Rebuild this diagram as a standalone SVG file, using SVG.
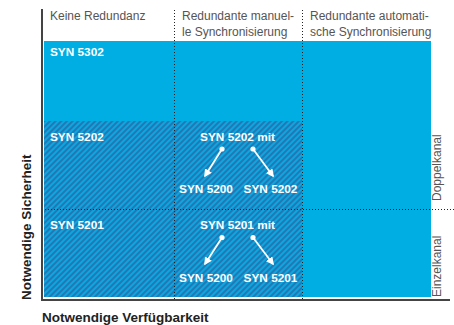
<svg xmlns="http://www.w3.org/2000/svg" width="454" height="325" viewBox="0 0 454 325">
<style>
.hdr{font-family:"Liberation Sans",Arial,sans-serif;font-size:12px;fill:#555}
.lbl{font-family:"Liberation Sans",Arial,sans-serif;font-size:11.8px;font-weight:bold;fill:#fff}
.ax{font-family:"Liberation Sans",Arial,sans-serif;font-size:13.5px;font-weight:bold;fill:#222}
.dot{stroke:#222;stroke-width:1;stroke-dasharray:1 2;fill:none}
.arr{stroke:#fff;stroke-width:1.8;fill:none;marker-end:url(#ah)}
</style>
<defs>
<pattern id="hatch" patternUnits="userSpaceOnUse" width="4" height="4" patternTransform="rotate(45)">
<rect width="4" height="4" fill="#0ea6df"/>
<rect width="2" height="4" fill="#2178b4"/>
</pattern>
<marker id="ah" viewBox="0 0 10 10" refX="8" refY="5" markerWidth="4.5" markerHeight="4.5" orient="auto" markerUnits="strokeWidth">
<path d="M0,0 L10,5 L0,10 z" fill="#fff"/>
</marker>
</defs>
<g id="background">
<rect x="44" y="41" width="387" height="256" fill="#00aee3"/>
<rect x="44" y="121" width="258" height="176" fill="url(#hatch)"/>
</g>
<g id="grid">
<line class="dot" x1="174.5" y1="10" x2="174.5" y2="300"/>
<line class="dot" x1="302.5" y1="10" x2="302.5" y2="300"/>
<line class="dot" x1="42" y1="209.5" x2="454" y2="209.5"/>
</g>
<g id="axes">
<line x1="42" y1="9" x2="42" y2="301" stroke="#444" stroke-width="2"/>
<line x1="41" y1="300" x2="450" y2="300" stroke="#444" stroke-width="2"/>
<text class="ax" x="42" y="321.5">Notwendige Verfügbarkeit</text>
<text class="ax" transform="translate(31,300) rotate(-90)">Notwendige Sicherheit</text>
</g>
<g id="headers">
<text class="hdr" x="50" y="20">Keine Redundanz</text>
<text class="hdr" x="182" y="20">Redundante manuel-</text>
<text class="hdr" x="182" y="35.5">le Synchronisierung</text>
<text class="hdr" x="310" y="20">Redundante automati-</text>
<text class="hdr" x="310" y="35.5">sche Synchronisierung</text>
<text class="hdr" transform="translate(441,201) rotate(-90)">Doppelkanal</text>
<text class="hdr" transform="translate(441,297) rotate(-90)">Einzelkanal</text>
</g>
<g id="n5302"><text class="lbl" x="50" y="56">SYN 5302</text></g>
<g id="n5202"><text class="lbl" x="50" y="140.5">SYN 5202</text></g>
<g id="n5201"><text class="lbl" x="50" y="229">SYN 5201</text></g>
<g id="n5202mit"><text class="lbl" x="237.5" y="140.5" text-anchor="middle">SYN 5202 mit</text></g>
<g id="n5200a"><text class="lbl" x="206" y="193" text-anchor="middle">SYN 5200</text></g>
<g id="n5202b"><text class="lbl" x="270.5" y="193" text-anchor="middle">SYN 5202</text></g>
<g id="n5201mit"><text class="lbl" x="237.5" y="229" text-anchor="middle">SYN 5201 mit</text></g>
<g id="n5200b"><text class="lbl" x="206" y="281.5" text-anchor="middle">SYN 5200</text></g>
<g id="n5201b"><text class="lbl" x="270.5" y="281.5" text-anchor="middle">SYN 5201</text></g>
<g id="connectors" fill="#fff">
<circle cx="222" cy="149" r="2.6"/>
<circle cx="253" cy="149" r="2.6"/>
<circle cx="222" cy="237.5" r="2.6"/>
<circle cx="253" cy="237.5" r="2.6"/>
<line class="arr" x1="222" y1="149" x2="205" y2="176"/>
<line class="arr" x1="253" y1="149" x2="273" y2="176"/>
<line class="arr" x1="222" y1="237.5" x2="205" y2="264"/>
<line class="arr" x1="253" y1="237.5" x2="273" y2="264"/>
</g>
</svg>
